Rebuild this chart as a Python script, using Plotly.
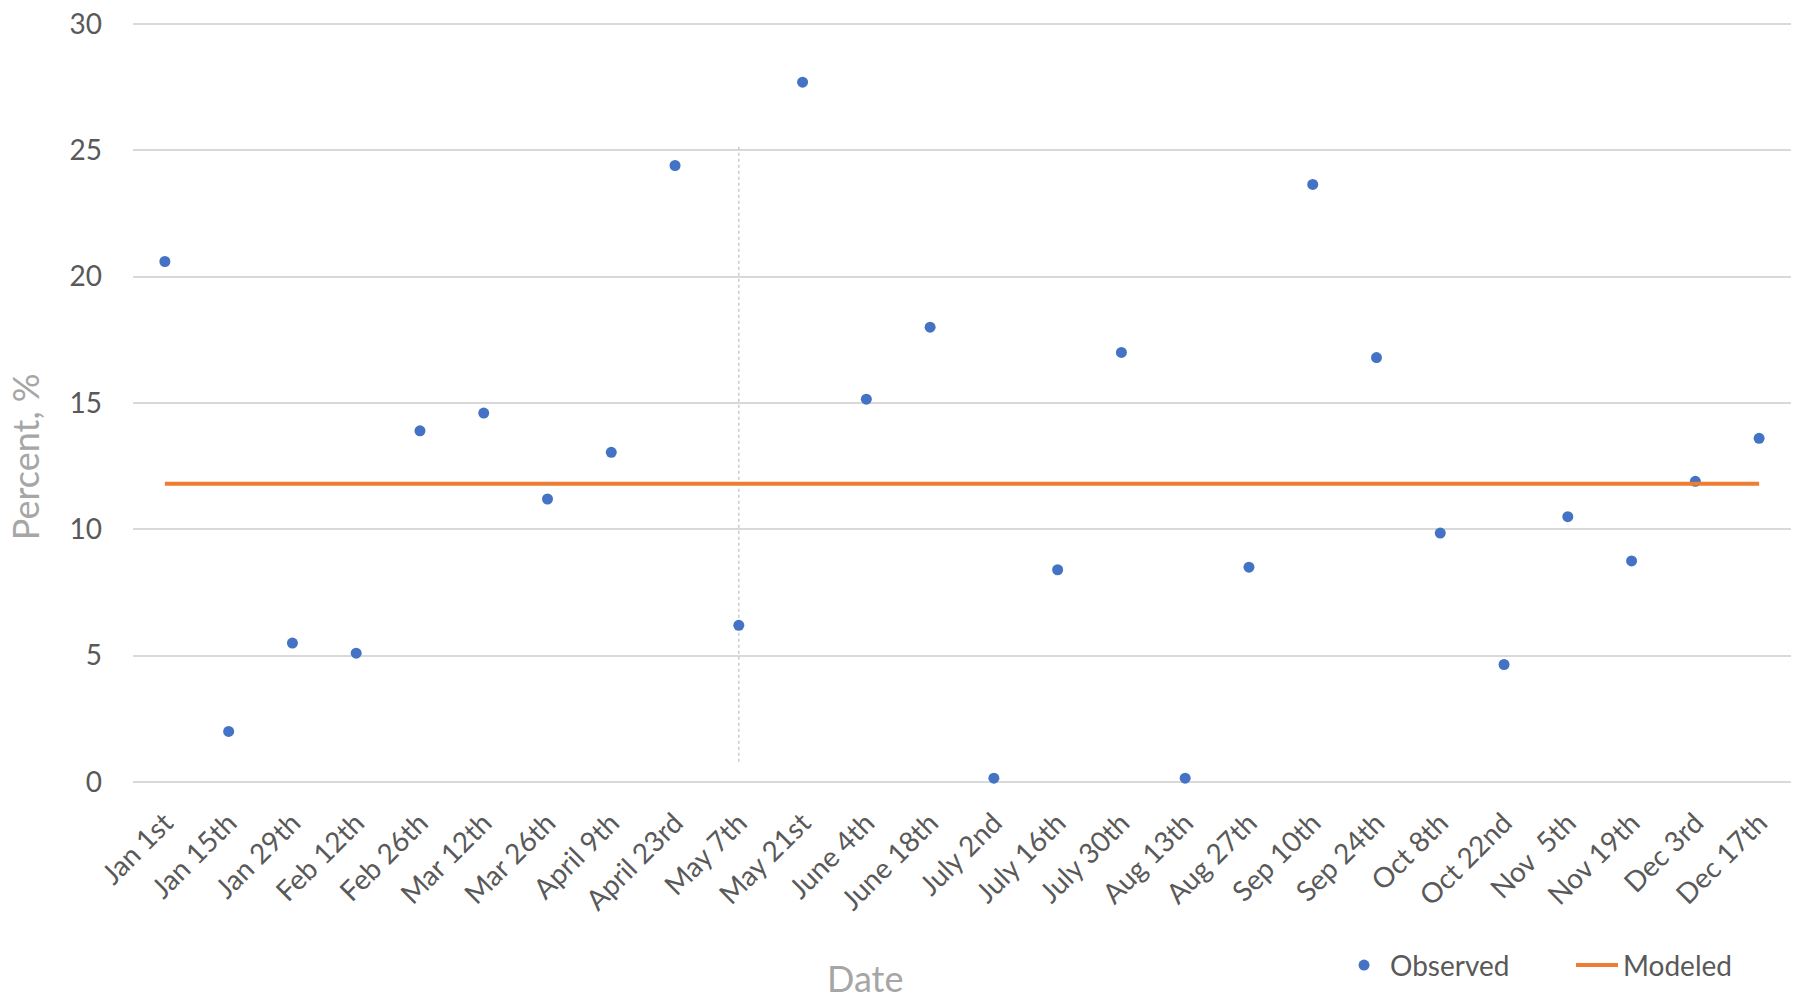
import plotly.graph_objects as go

dates = ["Jan 1st", "Jan 15th", "Jan 29th", "Feb 12th", "Feb 26th", "Mar 12th", "Mar 26th",
         "April 9th", "April 23rd", "May 7th", "May 21st", "June 4th", "June 18th", "July 2nd",
         "July 16th", "July 30th", "Aug 13th", "Aug 27th", "Sep 10th", "Sep 24th", "Oct 8th",
         "Oct 22nd", "Nov  5th", "Nov 19th", "Dec 3rd", "Dec 17th"]
observed = [20.6, 2.0, 5.5, 5.1, 13.9, 14.6, 11.2, 13.05, 24.4, 6.2, 27.7, 15.15, 18.0, 0.15,
            8.4, 17.0, 0.15, 8.5, 23.65, 16.8, 9.85, 4.65, 10.5, 8.75, 11.9, 13.6]
modeled_value = 11.8
modeled = [modeled_value] * len(dates)

marker_date = "May 7th"
marker_span = [0.8, 25.2]

y_ticks = [0, 5, 10, 15, 20, 25, 30]

FONT = "Lato, 'Open Sans', sans-serif"
TICK_COLOR = "#595959"
TITLE_COLOR = "#a6a6a6"

fig = go.Figure()
fig.add_trace(go.Scatter(
    x=[marker_date, marker_date], y=marker_span, mode="lines",
    line=dict(color="#bfbfbf", width=1.2, dash="dot"),
    showlegend=False, hoverinfo="skip"))
fig.add_trace(go.Scatter(
    x=dates, y=observed, mode="markers", name="Observed",
    marker=dict(color="#4472C4", size=11), legend="legend"))
fig.add_trace(go.Scatter(
    x=dates, y=modeled, mode="lines", name="Modeled",
    line=dict(color="#ED7D31", width=4), legend="legend2"))

legend_common = dict(
    orientation="h", yanchor="middle", xanchor="left",
    font=dict(size=28, color=TICK_COLOR, family=FONT), itemwidth=42,
    bgcolor="rgba(0,0,0,0)", borderwidth=0)

fig.update_layout(
    width=1784, height=986,
    margin=dict(l=125, r=1, t=14, b=210, autoexpand=False),
    paper_bgcolor="white", plot_bgcolor="white",
    font=dict(family=FONT, color=TICK_COLOR, size=28),
    xaxis=dict(
        type="category", categoryorder="array", categoryarray=dates,
        range=[-0.5, len(dates) - 0.5], automargin=False,
        showgrid=False, zeroline=False, showline=False,
        tickangle=-45, tickfont=dict(size=28, color=TICK_COLOR),
        ticks="", ticklabelstandoff=16),
    yaxis=dict(
        range=[-0.08, 30.08], tickvals=y_ticks, automargin=False,
        showgrid=True, gridcolor="#d9d9d9", gridwidth=1.5,
        zeroline=False, showline=False,
        tickfont=dict(size=28, color=TICK_COLOR), ticks="",
        ticklabelstandoff=30, ticklabeloverflow="allow"),
    legend=dict(x=0.7268, y=-0.238, **legend_common),
    legend2=dict(x=0.8673, y=-0.238, **legend_common),
    annotations=[
        dict(text="Date", xref="paper", yref="paper", x=0.4415, y=-0.254,
             xanchor="center", yanchor="middle", showarrow=False,
             font=dict(size=36, color=TITLE_COLOR, family=FONT)),
        dict(text="Percent, %", xref="paper", yref="paper", x=-0.0651, y=0.429,
             xanchor="center", yanchor="middle", showarrow=False, textangle=-90,
             font=dict(size=36, color=TITLE_COLOR, family=FONT)),
    ],
)

fig.write_html("out.html")
